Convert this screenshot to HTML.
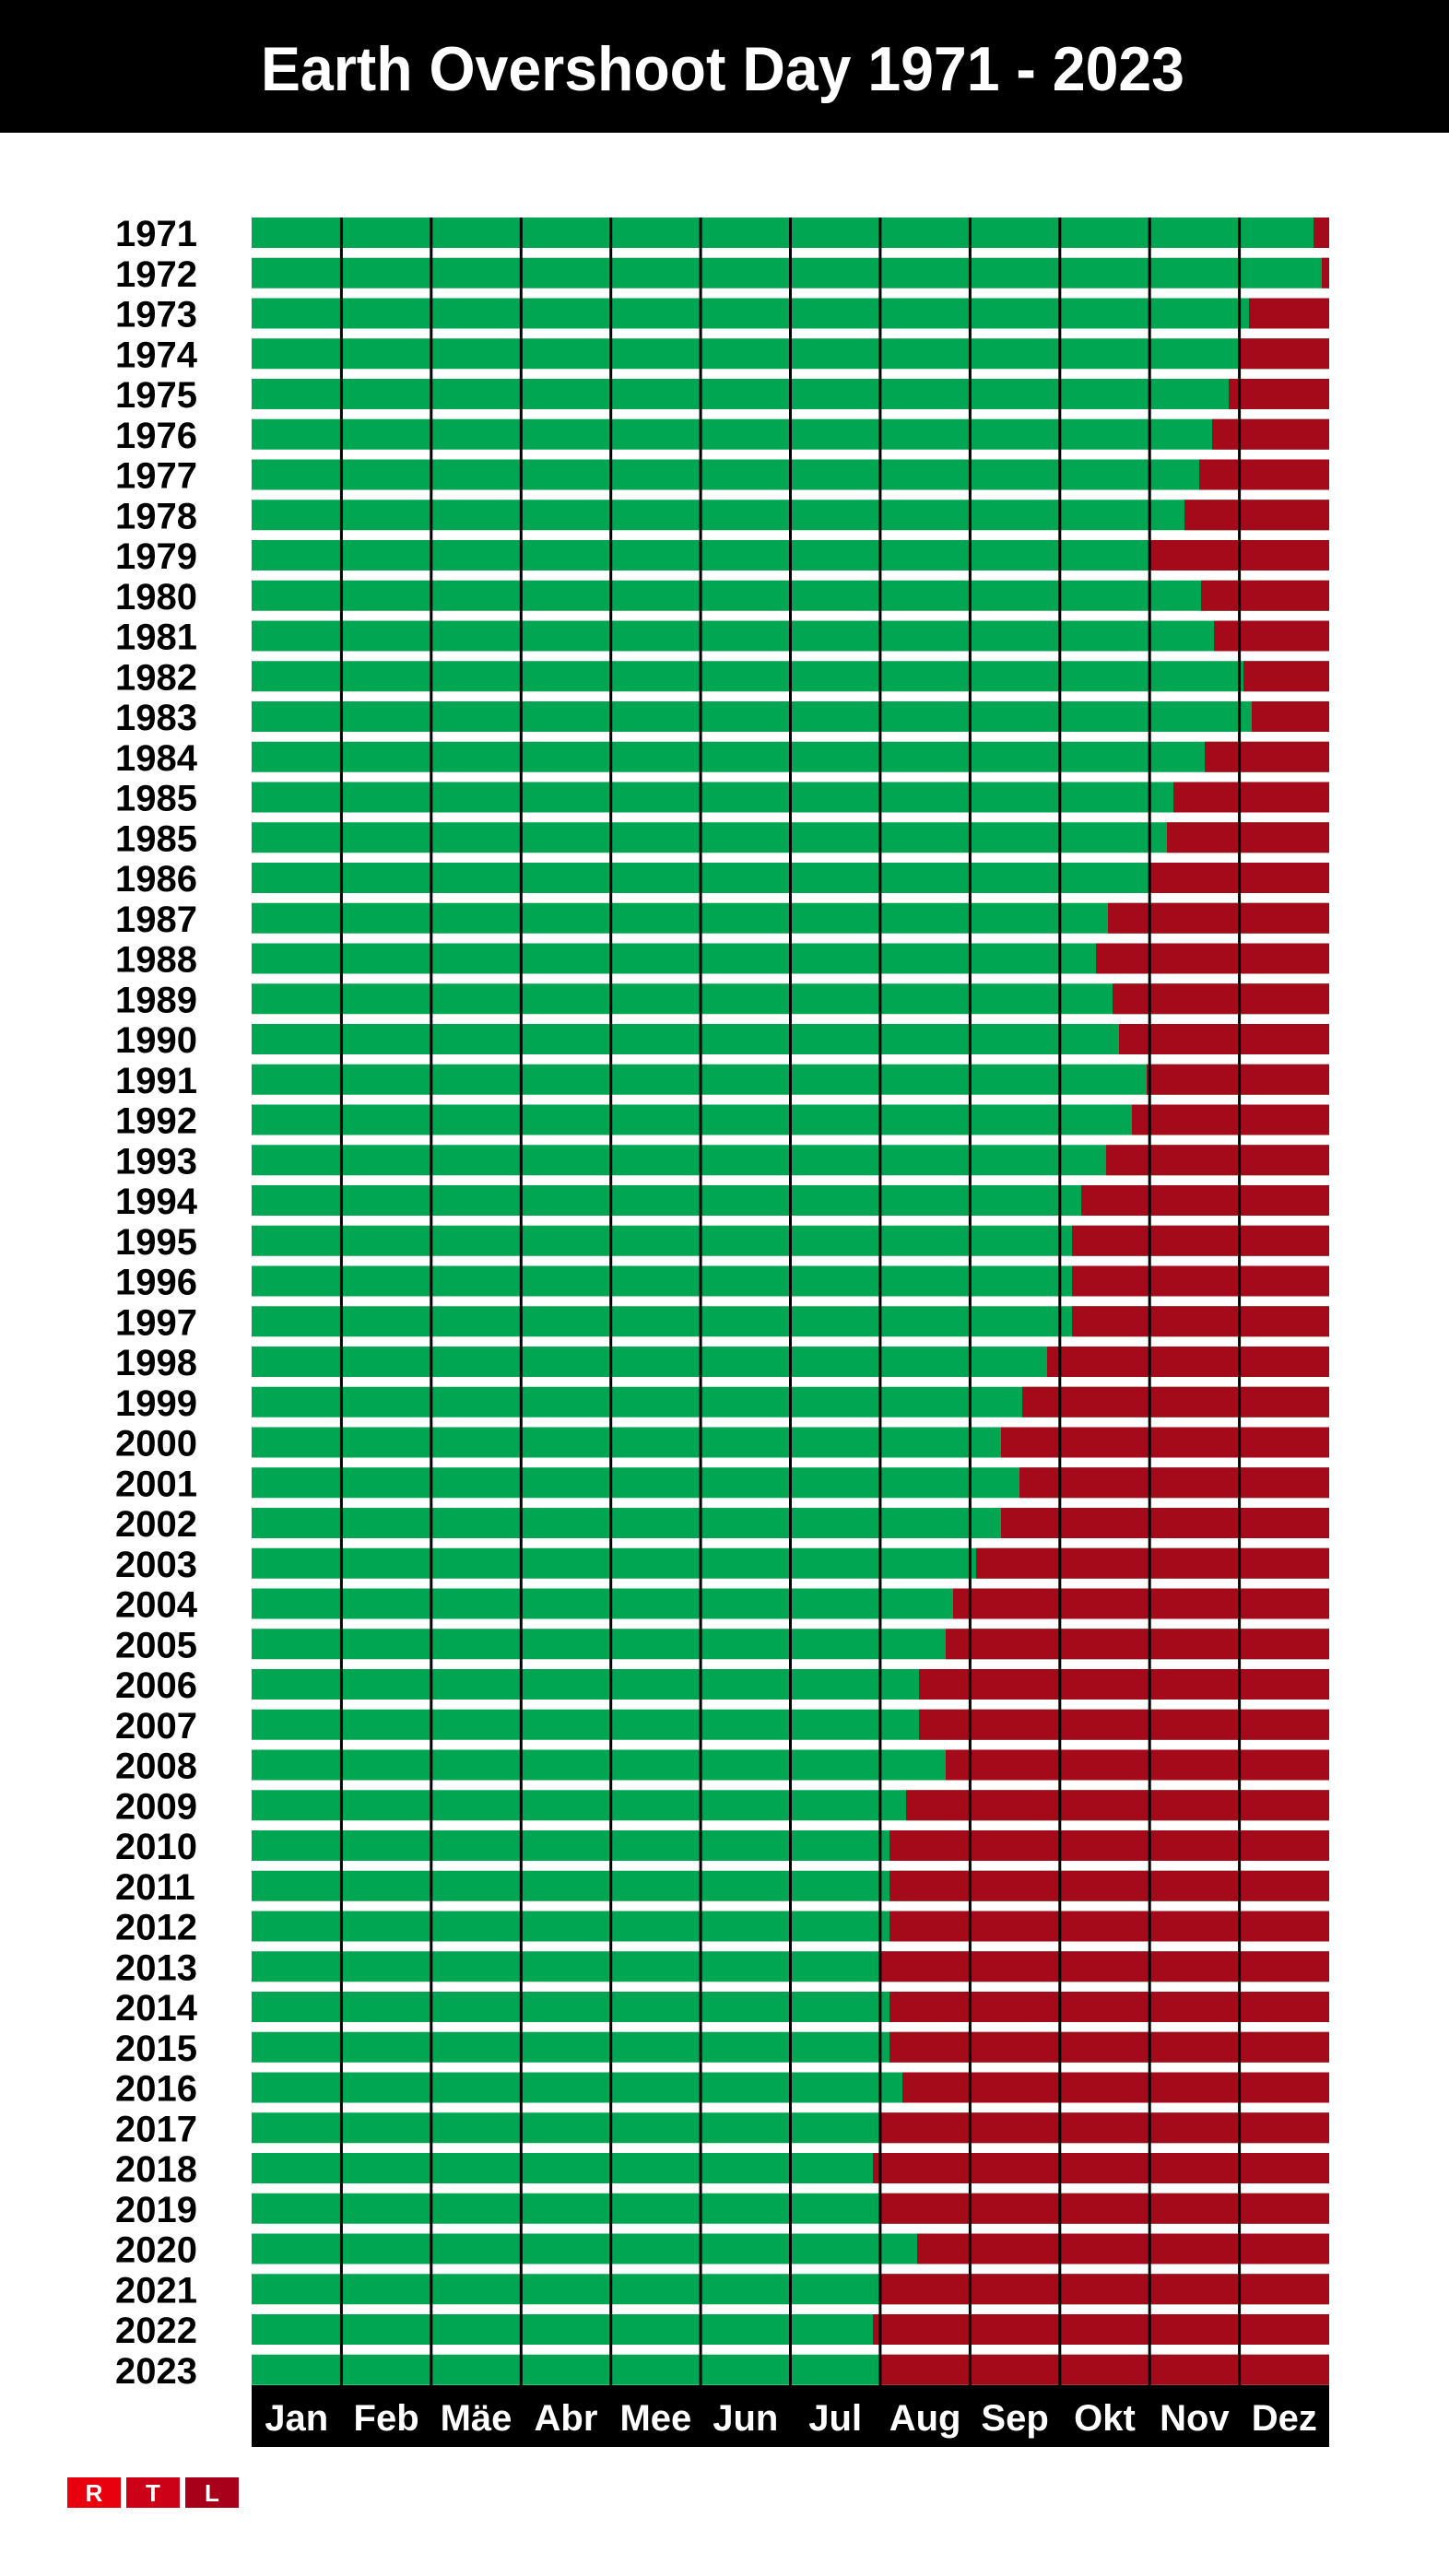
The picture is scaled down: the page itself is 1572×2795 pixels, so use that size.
<!DOCTYPE html>
<html><head><meta charset="utf-8"><style>html,body{margin:0;padding:0;background:#fff}svg{display:block}</style></head>
<body>
<svg width="1572" height="2795" viewBox="0 0 1572 2795" xmlns="http://www.w3.org/2000/svg" font-family="Liberation Sans, sans-serif" font-weight="bold">
<defs>
<rect id="g" x="273" y="0" width="1169" height="33" fill="#00a651"/>
</defs>
<rect x="0" y="0" width="1572" height="144" fill="#000"/>
<text x="784" y="98" fill="#fff" font-size="68" text-anchor="middle" textLength="1002" lengthAdjust="spacingAndGlyphs">Earth Overshoot Day  1971 - 2023</text>
<g font-size="40" fill="#000">
<g transform="translate(0,236)"><use href="#g"/><rect x="1425" y="0" width="17" height="33" fill="#a50a1a"/><text x="125" y="31">1971</text></g>
<g transform="translate(0,279.75)"><use href="#g"/><rect x="1434" y="0" width="8" height="33" fill="#a50a1a"/><text x="125" y="31">1972</text></g>
<g transform="translate(0,323.5)"><use href="#g"/><rect x="1355" y="0" width="87" height="33" fill="#a50a1a"/><text x="125" y="31">1973</text></g>
<g transform="translate(0,367.25)"><use href="#g"/><rect x="1344" y="0" width="98" height="33" fill="#a50a1a"/><text x="125" y="31">1974</text></g>
<g transform="translate(0,411)"><use href="#g"/><rect x="1333" y="0" width="109" height="33" fill="#a50a1a"/><text x="125" y="31">1975</text></g>
<g transform="translate(0,454.75)"><use href="#g"/><rect x="1315" y="0" width="127" height="33" fill="#a50a1a"/><text x="125" y="31">1976</text></g>
<g transform="translate(0,498.5)"><use href="#g"/><rect x="1301" y="0" width="141" height="33" fill="#a50a1a"/><text x="125" y="31">1977</text></g>
<g transform="translate(0,542.25)"><use href="#g"/><rect x="1285" y="0" width="157" height="33" fill="#a50a1a"/><text x="125" y="31">1978</text></g>
<g transform="translate(0,586)"><use href="#g"/><rect x="1246" y="0" width="196" height="33" fill="#a50a1a"/><text x="125" y="31">1979</text></g>
<g transform="translate(0,629.75)"><use href="#g"/><rect x="1303" y="0" width="139" height="33" fill="#a50a1a"/><text x="125" y="31">1980</text></g>
<g transform="translate(0,673.5)"><use href="#g"/><rect x="1317" y="0" width="125" height="33" fill="#a50a1a"/><text x="125" y="31">1981</text></g>
<g transform="translate(0,717.25)"><use href="#g"/><rect x="1349" y="0" width="93" height="33" fill="#a50a1a"/><text x="125" y="31">1982</text></g>
<g transform="translate(0,761)"><use href="#g"/><rect x="1358" y="0" width="84" height="33" fill="#a50a1a"/><text x="125" y="31">1983</text></g>
<g transform="translate(0,804.75)"><use href="#g"/><rect x="1307" y="0" width="135" height="33" fill="#a50a1a"/><text x="125" y="31">1984</text></g>
<g transform="translate(0,848.5)"><use href="#g"/><rect x="1273" y="0" width="169" height="33" fill="#a50a1a"/><text x="125" y="31">1985</text></g>
<g transform="translate(0,892.25)"><use href="#g"/><rect x="1266" y="0" width="176" height="33" fill="#a50a1a"/><text x="125" y="31">1985</text></g>
<g transform="translate(0,936)"><use href="#g"/><rect x="1246" y="0" width="196" height="33" fill="#a50a1a"/><text x="125" y="31">1986</text></g>
<g transform="translate(0,979.75)"><use href="#g"/><rect x="1202" y="0" width="240" height="33" fill="#a50a1a"/><text x="125" y="31">1987</text></g>
<g transform="translate(0,1023.5)"><use href="#g"/><rect x="1189" y="0" width="253" height="33" fill="#a50a1a"/><text x="125" y="31">1988</text></g>
<g transform="translate(0,1067.25)"><use href="#g"/><rect x="1207" y="0" width="235" height="33" fill="#a50a1a"/><text x="125" y="31">1989</text></g>
<g transform="translate(0,1111)"><use href="#g"/><rect x="1214" y="0" width="228" height="33" fill="#a50a1a"/><text x="125" y="31">1990</text></g>
<g transform="translate(0,1154.75)"><use href="#g"/><rect x="1244" y="0" width="198" height="33" fill="#a50a1a"/><text x="125" y="31">1991</text></g>
<g transform="translate(0,1198.5)"><use href="#g"/><rect x="1228" y="0" width="214" height="33" fill="#a50a1a"/><text x="125" y="31">1992</text></g>
<g transform="translate(0,1242.25)"><use href="#g"/><rect x="1200" y="0" width="242" height="33" fill="#a50a1a"/><text x="125" y="31">1993</text></g>
<g transform="translate(0,1286)"><use href="#g"/><rect x="1173" y="0" width="269" height="33" fill="#a50a1a"/><text x="125" y="31">1994</text></g>
<g transform="translate(0,1329.75)"><use href="#g"/><rect x="1163" y="0" width="279" height="33" fill="#a50a1a"/><text x="125" y="31">1995</text></g>
<g transform="translate(0,1373.5)"><use href="#g"/><rect x="1163" y="0" width="279" height="33" fill="#a50a1a"/><text x="125" y="31">1996</text></g>
<g transform="translate(0,1417.25)"><use href="#g"/><rect x="1163" y="0" width="279" height="33" fill="#a50a1a"/><text x="125" y="31">1997</text></g>
<g transform="translate(0,1461)"><use href="#g"/><rect x="1136" y="0" width="306" height="33" fill="#a50a1a"/><text x="125" y="31">1998</text></g>
<g transform="translate(0,1504.75)"><use href="#g"/><rect x="1109" y="0" width="333" height="33" fill="#a50a1a"/><text x="125" y="31">1999</text></g>
<g transform="translate(0,1548.5)"><use href="#g"/><rect x="1086" y="0" width="356" height="33" fill="#a50a1a"/><text x="125" y="31">2000</text></g>
<g transform="translate(0,1592.25)"><use href="#g"/><rect x="1106" y="0" width="336" height="33" fill="#a50a1a"/><text x="125" y="31">2001</text></g>
<g transform="translate(0,1636)"><use href="#g"/><rect x="1086" y="0" width="356" height="33" fill="#a50a1a"/><text x="125" y="31">2002</text></g>
<g transform="translate(0,1679.75)"><use href="#g"/><rect x="1059" y="0" width="383" height="33" fill="#a50a1a"/><text x="125" y="31">2003</text></g>
<g transform="translate(0,1723.5)"><use href="#g"/><rect x="1034" y="0" width="408" height="33" fill="#a50a1a"/><text x="125" y="31">2004</text></g>
<g transform="translate(0,1767.25)"><use href="#g"/><rect x="1026" y="0" width="416" height="33" fill="#a50a1a"/><text x="125" y="31">2005</text></g>
<g transform="translate(0,1811)"><use href="#g"/><rect x="997" y="0" width="445" height="33" fill="#a50a1a"/><text x="125" y="31">2006</text></g>
<g transform="translate(0,1854.75)"><use href="#g"/><rect x="997" y="0" width="445" height="33" fill="#a50a1a"/><text x="125" y="31">2007</text></g>
<g transform="translate(0,1898.5)"><use href="#g"/><rect x="1026" y="0" width="416" height="33" fill="#a50a1a"/><text x="125" y="31">2008</text></g>
<g transform="translate(0,1942.25)"><use href="#g"/><rect x="983" y="0" width="459" height="33" fill="#a50a1a"/><text x="125" y="31">2009</text></g>
<g transform="translate(0,1986)"><use href="#g"/><rect x="965" y="0" width="477" height="33" fill="#a50a1a"/><text x="125" y="31">2010</text></g>
<g transform="translate(0,2029.75)"><use href="#g"/><rect x="965" y="0" width="477" height="33" fill="#a50a1a"/><text x="125" y="31">2011</text></g>
<g transform="translate(0,2073.5)"><use href="#g"/><rect x="965" y="0" width="477" height="33" fill="#a50a1a"/><text x="125" y="31">2012</text></g>
<g transform="translate(0,2117.25)"><use href="#g"/><rect x="954" y="0" width="488" height="33" fill="#a50a1a"/><text x="125" y="31">2013</text></g>
<g transform="translate(0,2161)"><use href="#g"/><rect x="965" y="0" width="477" height="33" fill="#a50a1a"/><text x="125" y="31">2014</text></g>
<g transform="translate(0,2204.75)"><use href="#g"/><rect x="965" y="0" width="477" height="33" fill="#a50a1a"/><text x="125" y="31">2015</text></g>
<g transform="translate(0,2248.5)"><use href="#g"/><rect x="979" y="0" width="463" height="33" fill="#a50a1a"/><text x="125" y="31">2016</text></g>
<g transform="translate(0,2292.25)"><use href="#g"/><rect x="954" y="0" width="488" height="33" fill="#a50a1a"/><text x="125" y="31">2017</text></g>
<g transform="translate(0,2336)"><use href="#g"/><rect x="947" y="0" width="495" height="33" fill="#a50a1a"/><text x="125" y="31">2018</text></g>
<g transform="translate(0,2379.75)"><use href="#g"/><rect x="954" y="0" width="488" height="33" fill="#a50a1a"/><text x="125" y="31">2019</text></g>
<g transform="translate(0,2423.5)"><use href="#g"/><rect x="995" y="0" width="447" height="33" fill="#a50a1a"/><text x="125" y="31">2020</text></g>
<g transform="translate(0,2467.25)"><use href="#g"/><rect x="954" y="0" width="488" height="33" fill="#a50a1a"/><text x="125" y="31">2021</text></g>
<g transform="translate(0,2511)"><use href="#g"/><rect x="947" y="0" width="495" height="33" fill="#a50a1a"/><text x="125" y="31">2022</text></g>
<g transform="translate(0,2554.75)"><use href="#g"/><rect x="954" y="0" width="488" height="33" fill="#a50a1a"/><text x="125" y="31">2023</text></g>
</g>
<g stroke="#000" stroke-width="3">
<line x1="370.4" y1="236" x2="370.4" y2="2590"/>
<line x1="467.8" y1="236" x2="467.8" y2="2590"/>
<line x1="565.3" y1="236" x2="565.3" y2="2590"/>
<line x1="662.7" y1="236" x2="662.7" y2="2590"/>
<line x1="760.1" y1="236" x2="760.1" y2="2590"/>
<line x1="857.5" y1="236" x2="857.5" y2="2590"/>
<line x1="954.9" y1="236" x2="954.9" y2="2590"/>
<line x1="1052.4" y1="236" x2="1052.4" y2="2590"/>
<line x1="1149.8" y1="236" x2="1149.8" y2="2590"/>
<line x1="1247.2" y1="236" x2="1247.2" y2="2590"/>
<line x1="1344.6" y1="236" x2="1344.6" y2="2590"/>
</g>
<rect x="273" y="2588" width="1169" height="67" fill="#000"/>
<g fill="#fff" font-size="40" text-anchor="middle">
<text x="321.7" y="2637">Jan</text>
<text x="419.1" y="2637">Feb</text>
<text x="516.5" y="2637">Mäe</text>
<text x="614" y="2637">Abr</text>
<text x="711.4" y="2637">Mee</text>
<text x="808.8" y="2637">Jun</text>
<text x="906.2" y="2637">Jul</text>
<text x="1003.6" y="2637">Aug</text>
<text x="1101.1" y="2637">Sep</text>
<text x="1198.5" y="2637">Okt</text>
<text x="1295.9" y="2637">Nov</text>
<text x="1393.3" y="2637">Dez</text>
</g>
<rect x="73" y="2688" width="58" height="33" fill="#e8000f"/>
<rect x="137" y="2688" width="58" height="33" fill="#cc0016"/>
<rect x="201" y="2688" width="58" height="33" fill="#a8001a"/>
<g fill="#fff" font-size="26" text-anchor="middle" font-family="Liberation Sans, sans-serif">
<text x="102" y="2714">R</text>
<text x="166" y="2714">T</text>
<text x="230" y="2714">L</text>
</g>
</svg>
</body></html>
